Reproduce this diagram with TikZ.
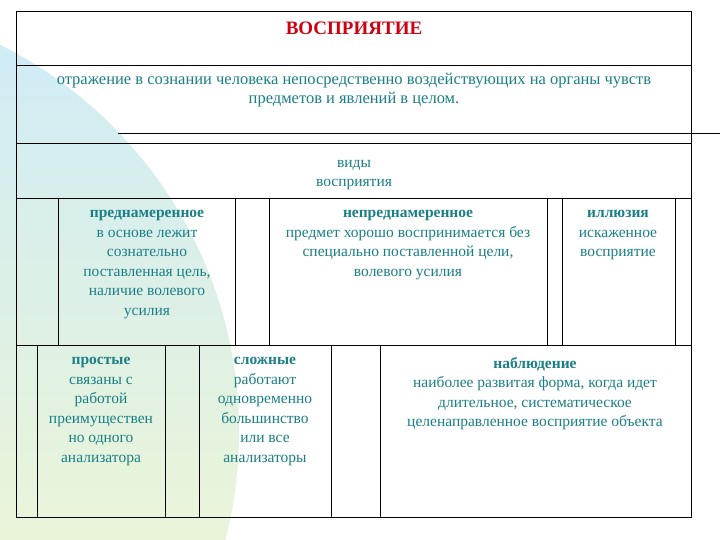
\documentclass[tikz,border=0pt]{standalone}
\usepackage{fontspec}
\setmainfont{Liberation Serif}
\definecolor{tl}{HTML}{1A7F86}
\definecolor{ttl}{HTML}{D00010}
\definecolor{bgb}{HTML}{CDEBF8}
\definecolor{bgy}{HTML}{FCFAC6}
\begin{document}
\begin{tikzpicture}[x=1pt,y=-1pt,
  ln/.style={draw=black,line width=0.9pt},
  tx/.style={text=tl,align=center,font=\fontsize{15.5}{19.5}\selectfont,anchor=north,inner sep=0pt}]
\useasboundingbox (0,0) rectangle (720,540);
\fill[white] (0,0) rectangle (720,540);
\begin{scope}
\clip (0,0) rectangle (720,540);
\shade[top color=bgb,bottom color=bgy,middle color=bgb!50!bgy] (-194,432) circle (433);
\end{scope}
% frame and lines
\draw[ln] (16,11) rectangle (691,517);
\draw[ln] (16,65) -- (691,65);
\draw[ln] (118,133) -- (720,133);
\draw[ln] (16,143) -- (691,143);
\draw[ln] (16,198) -- (691,198);
\draw[ln] (16,345) -- (691,345);
\foreach \x in {58,235,269,547,562,675} \draw[ln] (\x,198) -- (\x,345);
\foreach \x in {37,165,199,331,380} \draw[ln] (\x,345) -- (\x,517);
% texts
\node[tx,text=ttl,font=\bfseries\fontsize{19}{21}\selectfont] (t) at (354,22) {ВОСПРИЯТИЕ};
\node[tx,font=\fontsize{16.5}{19.5}\selectfont] (d) at (354,73) {отражение в сознании человека непосредственно воздействующих на органы чувств\\предметов и явлений в целом.};
\node[tx] (v) at (354,160) {виды\\восприятия};
\node[tx] (p) at (147,210) {\textbf{преднамеренное}\\в основе лежит\\сознательно\\поставленная цель,\\наличие волевого\\усилия};
\node[tx] (n) at (408,210) {\textbf{непреднамеренное}\\предмет хорошо воспринимается без\\специально поставленной цели,\\волевого усилия};
\node[tx] (i) at (618,210) {\textbf{иллюзия}\\искаженное\\восприятие};
\node[tx] (s) at (101,357) {\textbf{простые}\\связаны с\\работой\\преимуществен\\но одного\\анализатора};
\node[tx] (c) at (265,357) {\textbf{сложные}\\работают\\одновременно\\большинство\\или все\\анализаторы};
\node[tx] (o) at (535,357) {\textbf{наблюдение}\\наиболее развитая форма, когда идет\\длительное, систематическое\\целенаправленное восприятие объекта};
\end{tikzpicture}
\end{document}
